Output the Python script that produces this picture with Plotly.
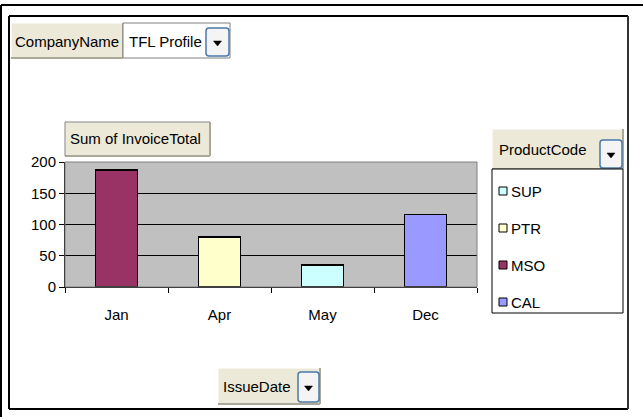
import plotly.graph_objects as go

# ---- data ----
months = ["Jan", "Apr", "May", "Dec"]
products = ["SUP", "PTR", "MSO", "CAL"]
sup_totals = [None, None, 35, None]
ptr_totals = [None, 80, None, None]
mso_totals = [187, None, None, None]
cal_totals = [None, None, None, 116]
product_colors = ["#CCFFFF", "#FFFFCC", "#993366", "#9999FF"]
y_ticks = [0, 50, 100, 150, 200]

W, H = 643, 417
FONT = "Liberation Sans, Arial, sans-serif"
FS = 15


def px(x):
    return x / W


def py(y):
    return 1 - y / H


fig = go.Figure()
series = [sup_totals, ptr_totals, mso_totals, cal_totals]
for name, vals, col in zip(products, series, product_colors):
    fig.add_trace(go.Bar(
        x=months, y=vals, name=name,
        marker=dict(color=col, line=dict(color="black", width=1.5)),
        showlegend=False,
    ))

shapes = []
annots = []


def rect(x0, y0, x1, y1, fill=None, line="black", lw=1):
    shapes.append(dict(type="rect", xref="paper", yref="paper",
                       x0=px(x0), y0=py(y1), x1=px(x1), y1=py(y0),
                       fillcolor=fill if fill else "rgba(0,0,0,0)",
                       line=dict(color=line, width=lw), layer="above"))


def hline(x0, x1, y, color="black", lw=1):
    shapes.append(dict(type="line", xref="paper", yref="paper",
                       x0=px(x0), x1=px(x1), y0=py(y), y1=py(y),
                       line=dict(color=color, width=lw), layer="above"))


def vline(x, y0, y1, color="black", lw=1):
    shapes.append(dict(type="line", xref="paper", yref="paper",
                       x0=px(x), x1=px(x), y0=py(y0), y1=py(y1),
                       line=dict(color=color, width=lw), layer="above"))


def text(t, x, y, anchor="left", size=FS):
    annots.append(dict(text=t, x=px(x), y=py(y), xref="paper", yref="paper",
                       xanchor=anchor, yanchor="middle", showarrow=False,
                       font=dict(family=FONT, size=size, color="black")))


def field_button(x0, y0, x1, y1):
    rect(x0, y0, x1, y1, fill="#ECE9D8", line="#ECE9D8", lw=0)
    hline(x0, x1, y0, color="#FFFFFF", lw=1)
    vline(x0, y0, y1, color="#FFFFFF", lw=1)
    hline(x0, x1, y1, color="#ACA899", lw=2)
    vline(x1, y0, y1, color="#ACA899", lw=2)


def dropdown(x0, y0, x1, y1):
    r = 3
    path = (f"M{px(x0 + r)},{py(y0)} L{px(x1 - r)},{py(y0)} "
            f"Q{px(x1)},{py(y0)} {px(x1)},{py(y0 + r)} L{px(x1)},{py(y1 - r)} "
            f"Q{px(x1)},{py(y1)} {px(x1 - r)},{py(y1)} L{px(x0 + r)},{py(y1)} "
            f"Q{px(x0)},{py(y1)} {px(x0)},{py(y1 - r)} L{px(x0)},{py(y0 + r)} "
            f"Q{px(x0)},{py(y0)} {px(x0 + r)},{py(y0)} Z")
    shapes.append(dict(type="path", xref="paper", yref="paper", path=path,
                       fillcolor="#F4F4F4", line=dict(color="#4A78A8", width=1.5),
                       layer="above"))
    cx = (x0 + x1) / 2
    cy = (y0 + y1) / 2 + 1
    tri = (f"M{px(cx - 4)},{py(cy - 2)} L{px(cx + 4)},{py(cy - 2)} "
           f"L{px(cx)},{py(cy + 3)} Z")
    shapes.append(dict(type="path", xref="paper", yref="paper", path=tri,
                       fillcolor="black", line=dict(color="black", width=0.5),
                       layer="above"))


# outer frames
hline(1, W, 5, lw=2)
vline(1, 5, H, lw=2)
# inner frame
hline(9, 628, 16, lw=2)
hline(9, 628, 409, lw=2)
vline(9, 16, 409, lw=2)
vline(628, 16, 409, color="#333333", lw=2)

# plot area border (gray)
rect(65, 162, 477, 287, line="#808080", lw=1)

# CompanyName page field
field_button(11, 23, 123, 58)
text("CompanyName", 13, 41)
rect(123, 23, 230, 58, fill="white", line="#808080", lw=1)
text("TFL Profile", 127, 41)
dropdown(206, 28, 229, 56)

# data field button
field_button(65, 122, 210, 156)
vline(65, 122, 156, color="#808080", lw=1)
hline(65, 210, 122, color="#808080", lw=1)
text("Sum of InvoiceTotal", 68, 139)

# ProductCode series field + legend
field_button(492, 129, 623, 169)
text("ProductCode", 497, 149)
dropdown(600, 140, 622, 168)
rect(492, 169, 623, 313, fill="white", line="black", lw=1)
legend_y0 = 191
legend_step = 37
for i, (name, col) in enumerate(zip(products, product_colors)):
    yc = legend_y0 + i * legend_step
    rect(499, yc - 4, 507, yc + 4, fill=col, line="black", lw=1)
    text(name, 509, yc)

# IssueDate category field
field_button(218, 368, 320, 404)
text("IssueDate", 221, 386)
dropdown(298, 372, 319, 402)

fig.update_layout(
    template="none",
    width=W, height=H,
    margin=dict(l=0, r=0, t=0, b=0, pad=0, autoexpand=False),
    paper_bgcolor="white",
    plot_bgcolor="#C0C0C0",
    barmode="stack",
    bargap=0.59,
    showlegend=False,
    shapes=shapes,
    annotations=annots,
    font=dict(family=FONT, size=FS, color="black"),
    xaxis=dict(
        domain=[px(65), px(477)],
        type="category",
        automargin=False,
        showline=True, linecolor="black", linewidth=1,
        ticks="outside", ticklen=5, tickcolor="black", tickson="boundaries",
        ticklabelstandoff=14,
        showgrid=False,
        tickfont=dict(family=FONT, size=FS, color="black"),
        fixedrange=True,
    ),
    yaxis=dict(
        domain=[py(287), py(162)],
        range=[0, 200],
        tickvals=y_ticks,
        automargin=False,
        showline=True, linecolor="black", linewidth=1,
        ticks="outside", ticklen=5, tickcolor="black",
        showgrid=True, gridcolor="black", gridwidth=1,
        zeroline=False,
        tickfont=dict(family=FONT, size=FS, color="black"),
        fixedrange=True,
    ),
)

fig.write_html("out.html", config={"displayModeBar": False},
               post_script="document.body.style.margin='0';")
